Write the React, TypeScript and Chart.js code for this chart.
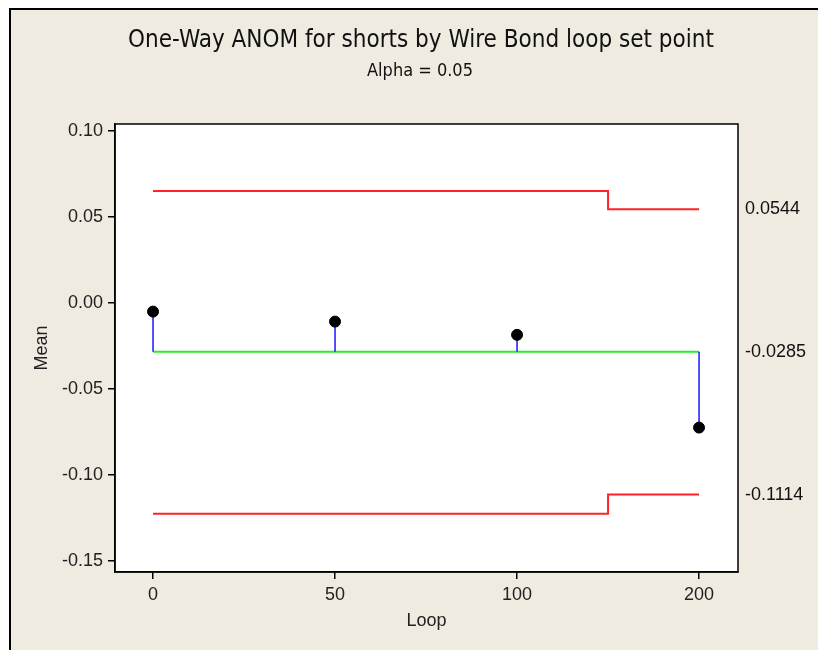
import React, { useEffect, useRef } from "react";
import { Chart, registerables } from "chart.js";

Chart.register(...registerables);

// ---- data ----
const loopLabels = ["0", "50", "100", "200"];
const groupMeans = [-0.0051, -0.0109, -0.0186, -0.0725];
const centerLine = -0.0285;
const upperLimits = [0.065, 0.065, 0.065, 0.0544];
const lowerLimits = [-0.1225, -0.1225, -0.1225, -0.1114];
const rightLabelValues = [0.0544, -0.0285, -0.1114];
const yTickValues = [0.1, 0.05, 0.0, -0.05, -0.1, -0.15];
const titleText = "One-Way ANOM for shorts by Wire Bond loop set point";
const subtitleText = "Alpha = 0.05";

const TICK_FONT = '"Liberation Sans", Arial, sans-serif';
const TITLE_FONT = '"DejaVu Sans Condensed", "Liberation Sans Narrow", sans-serif';

const frameAndTextPlugin = {
  id: "frameAndText",
  beforeDraw(chart: any) {
    const { ctx, chartArea } = chart;
    ctx.save();
    ctx.fillStyle = "#ffffff";
    ctx.fillRect(chartArea.left, chartArea.top, chartArea.right - chartArea.left, chartArea.bottom - chartArea.top);
    ctx.restore();
  },
  afterDraw(chart: any) {
    const { ctx, chartArea, scales } = chart;
    ctx.save();
    ctx.strokeStyle = "#000";
    ctx.lineWidth = 1.5;
    ctx.strokeRect(chartArea.left, chartArea.top, chartArea.right - chartArea.left, chartArea.bottom - chartArea.top);
    // titles
    ctx.fillStyle = "#111";
    ctx.textAlign = "center";
    ctx.textBaseline = "middle";
    ctx.font = `24px ${TITLE_FONT}`;
    ctx.fillText(titleText, 421, 41);
    ctx.font = `18px ${TITLE_FONT}`;
    ctx.fillText(subtitleText, 420, 71);
    // right-side limit labels
    ctx.font = `18px ${TICK_FONT}`;
    ctx.textAlign = "left";
    rightLabelValues.forEach((v) => {
      const y = scales.y.getPixelForValue(v);
      ctx.fillText(v.toFixed(4), chartArea.right + 7, y);
    });
    ctx.restore();
  },
};

export default function App() {
  const canvasRef = useRef<HTMLCanvasElement | null>(null);

  useEffect(() => {
    if (!canvasRef.current) return;
    const idx = groupMeans.map((_, i) => i);
    const stems: any[] = [];
    groupMeans.forEach((m, i) => {
      stems.push({ x: i, y: centerLine });
      stems.push({ x: i, y: m });
      stems.push({ x: i, y: null });
    });
    const chart = new Chart(canvasRef.current, {
      type: "scatter",
      data: {
        datasets: [
          {
            label: "Means",
            data: groupMeans.map((m, i) => ({ x: i, y: m })),
            backgroundColor: "#000",
            borderColor: "#000",
            pointRadius: 5.5,
            showLine: false,
            order: 0,
          },
          {
            label: "Upper",
            data: upperLimits.map((v, i) => ({ x: i, y: v })),
            borderColor: "rgb(255,35,35)",
            borderWidth: 2,
            pointRadius: 0,
            showLine: true,
            stepped: "middle",
            order: 1,
          },
          {
            label: "Lower",
            data: lowerLimits.map((v, i) => ({ x: i, y: v })),
            borderColor: "rgb(255,35,35)",
            borderWidth: 2,
            pointRadius: 0,
            showLine: true,
            stepped: "middle",
            order: 2,
          },
          {
            label: "Stems",
            data: stems,
            borderColor: "rgb(25,25,255)",
            borderWidth: 1.5,
            pointRadius: 0,
            showLine: true,
            spanGaps: false,
            order: 3,
          },
          {
            label: "Center",
            data: idx.map((i) => ({ x: i, y: centerLine })),
            borderColor: "rgb(40,235,40)",
            borderWidth: 2,
            pointRadius: 0,
            showLine: true,
            order: 4,
          },
        ],
      },
      options: {
        animation: false,
        responsive: false,
        devicePixelRatio: 1,
        layout: { padding: { left: 0, right: 80, top: 124, bottom: 0 } },
        plugins: {
          legend: { display: false },
          title: { display: false },
          tooltip: { enabled: false },
        },
        scales: {
          x: {
            type: "linear",
            min: -0.209,
            max: 3.214,
            afterBuildTicks: (scale: any) => {
              scale.ticks = idx.map((i) => ({ value: i }));
            },
            afterFit: (scale: any) => {
              scale.height = 78;
            },
            ticks: {
              callback: (v: any) => loopLabels[Math.round(Number(v))] ?? "",
              color: "#222",
              font: { family: TICK_FONT, size: 18 },
              padding: 5,
              maxRotation: 0,
            },
            grid: {
              drawOnChartArea: false,
              drawTicks: true,
              tickLength: 7,
              color: "#000",
              lineWidth: 1.5,
            },
            border: { display: true, color: "#000", width: 1.5 },
            title: {
              display: true,
              text: "Loop",
              color: "#222",
              font: { family: TICK_FONT, size: 18 },
              padding: { top: 0, bottom: 18 },
            },
          },
          y: {
            type: "linear",
            min: -0.1564,
            max: 0.1039,
            afterBuildTicks: (scale: any) => {
              scale.ticks = yTickValues.map((v) => ({ value: v }));
            },
            afterFit: (scale: any) => {
              scale.width = 115;
            },
            ticks: {
              callback: (v: any) => Number(v).toFixed(2),
              color: "#222",
              font: { family: TICK_FONT, size: 18 },
              padding: 5,
            },
            grid: {
              drawOnChartArea: false,
              drawTicks: true,
              tickLength: 7,
              color: "#000",
              lineWidth: 1.5,
            },
            border: { display: true, color: "#000", width: 1.5 },
            title: {
              display: true,
              text: "Mean",
              color: "#222",
              font: { family: TICK_FONT, size: 18 },
              padding: { top: 31, bottom: 0 },
            },
          },
        },
      },
      plugins: [frameAndTextPlugin],
    } as any);
    return () => chart.destroy();
  }, []);

  return (
    <div style={{ position: "fixed", left: 0, top: 0, width: 818, height: 650, background: "#fff" }}>
      <div
        style={{
          position: "absolute",
          left: 9,
          top: 8,
          right: 0,
          bottom: 0,
          background: "#EFEBE1",
          borderTop: "2px solid #000",
          borderLeft: "2px solid #000",
        }}
      />
      <canvas
        ref={canvasRef}
        width={818}
        height={650}
        style={{ position: "absolute", left: 0, top: 0, width: 818, height: 650 }}
      />
    </div>
  );
}
